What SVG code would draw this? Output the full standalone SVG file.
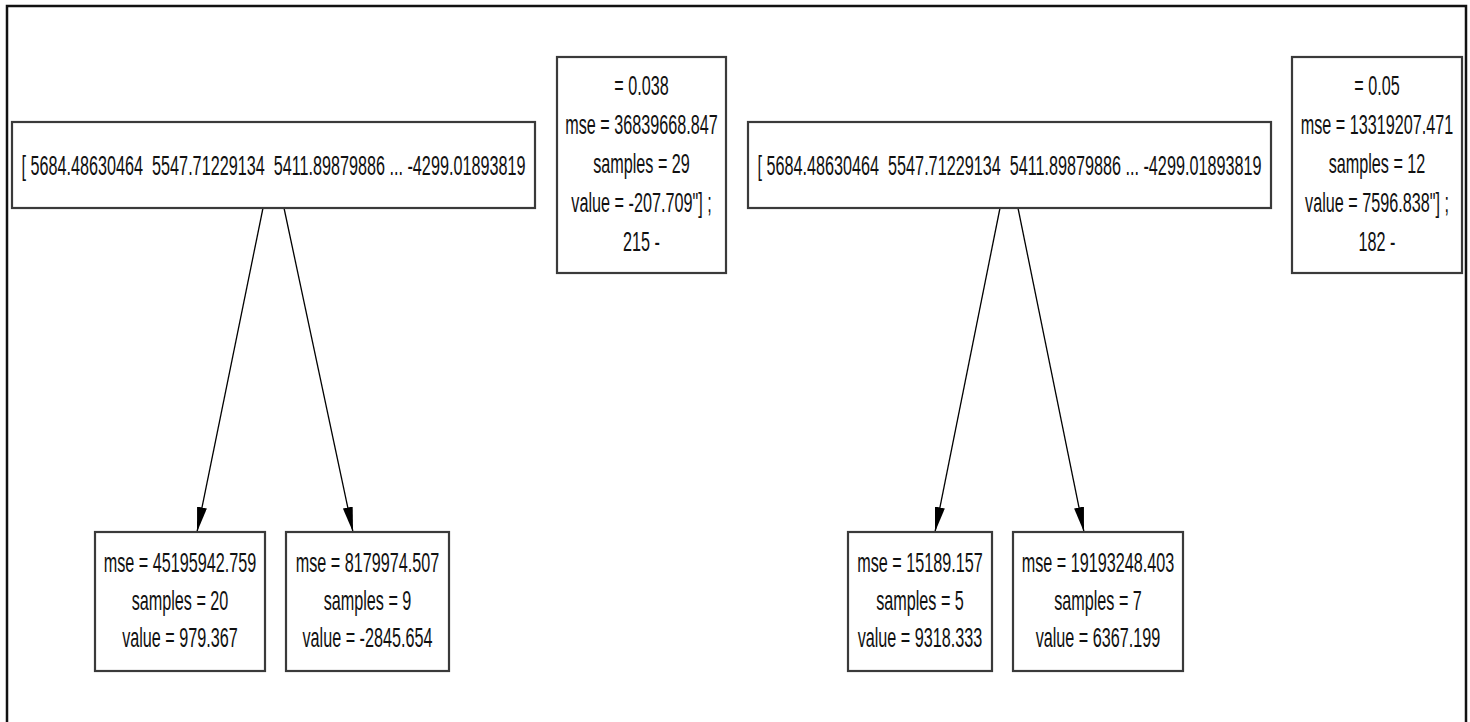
<svg xmlns="http://www.w3.org/2000/svg" width="1470" height="722" viewBox="0 0 1470 722">
<style>
.box{fill:#ffffff;stroke:#3a3a3a;stroke-width:2.2}
.t{font-family:"Liberation Sans",Arial,sans-serif;font-size:27px;fill:#111;text-anchor:middle;white-space:pre}
.edge{stroke:#000;stroke-width:1.3;fill:none}
</style>
<defs>
<marker id="ah" markerUnits="userSpaceOnUse" markerWidth="26" markerHeight="11" refX="25" refY="5" orient="auto">
<path d="M0,0 L25,5 L0,10 Z" fill="#000"/>
</marker>
</defs>
<rect width="1470" height="722" fill="#ffffff"/>
<path d="M7,722 L7,6 L1466,6 L1466,722" fill="none" stroke="#111" stroke-width="2.5"/>
<g id="connectors">
<line class="edge" x1="263" y1="208" x2="197" y2="532" marker-end="url(#ah)"/>
<line class="edge" x1="284" y1="208" x2="353" y2="532" marker-end="url(#ah)"/>
<line class="edge" x1="1000" y1="208" x2="935" y2="532" marker-end="url(#ah)"/>
<line class="edge" x1="1018" y1="208" x2="1084" y2="532" marker-end="url(#ah)"/>
</g>
<g id="root1">
<rect class="box" x="12" y="122" width="523" height="86"/>
<text class="t" xml:space="preserve" transform="translate(273.5 175) scale(0.6 1)">[ 5684.48630464  5547.71229134  5411.89879886 ... -4299.01893819</text>
</g>
<g id="info1">
<rect class="box" x="557" y="57" width="169" height="216"/>
<text class="t" transform="translate(641.5 95) scale(0.6 1)">= 0.038</text>
<text class="t" transform="translate(641.5 134) scale(0.6 1)">mse = 36839668.847</text>
<text class="t" transform="translate(641.5 173) scale(0.6 1)">samples = 29</text>
<text class="t" transform="translate(641.5 212) scale(0.6 1)">value = -207.709"] ;</text>
<text class="t" transform="translate(641.5 251) scale(0.6 1)">215 -</text>
</g>
<g id="root2">
<rect class="box" x="748" y="122" width="523" height="86"/>
<text class="t" xml:space="preserve" transform="translate(1009.5 175) scale(0.6 1)">[ 5684.48630464  5547.71229134  5411.89879886 ... -4299.01893819</text>
</g>
<g id="info2">
<rect class="box" x="1292" y="57" width="170" height="216"/>
<text class="t" transform="translate(1377 95) scale(0.6 1)">= 0.05</text>
<text class="t" transform="translate(1377 134) scale(0.6 1)">mse = 13319207.471</text>
<text class="t" transform="translate(1377 173) scale(0.6 1)">samples = 12</text>
<text class="t" transform="translate(1377 212) scale(0.6 1)">value = 7596.838"] ;</text>
<text class="t" transform="translate(1377 251) scale(0.6 1)">182 -</text>
</g>
<g id="leaf1">
<rect class="box" x="95" y="532" width="170" height="139"/>
<text class="t" transform="translate(180 572) scale(0.6 1)">mse = 45195942.759</text>
<text class="t" transform="translate(180 609.5) scale(0.6 1)">samples = 20</text>
<text class="t" transform="translate(180 647) scale(0.6 1)">value = 979.367</text>
</g>
<g id="leaf2">
<rect class="box" x="286" y="532" width="163" height="139"/>
<text class="t" transform="translate(367.5 572) scale(0.6 1)">mse = 8179974.507</text>
<text class="t" transform="translate(367.5 609.5) scale(0.6 1)">samples = 9</text>
<text class="t" transform="translate(367.5 647) scale(0.6 1)">value = -2845.654</text>
</g>
<g id="leaf3">
<rect class="box" x="848" y="532" width="144" height="139"/>
<text class="t" transform="translate(920 572) scale(0.6 1)">mse = 15189.157</text>
<text class="t" transform="translate(920 609.5) scale(0.6 1)">samples = 5</text>
<text class="t" transform="translate(920 647) scale(0.6 1)">value = 9318.333</text>
</g>
<g id="leaf4">
<rect class="box" x="1013" y="532" width="170" height="139"/>
<text class="t" transform="translate(1098 572) scale(0.6 1)">mse = 19193248.403</text>
<text class="t" transform="translate(1098 609.5) scale(0.6 1)">samples = 7</text>
<text class="t" transform="translate(1098 647) scale(0.6 1)">value = 6367.199</text>
</g>
</svg>
